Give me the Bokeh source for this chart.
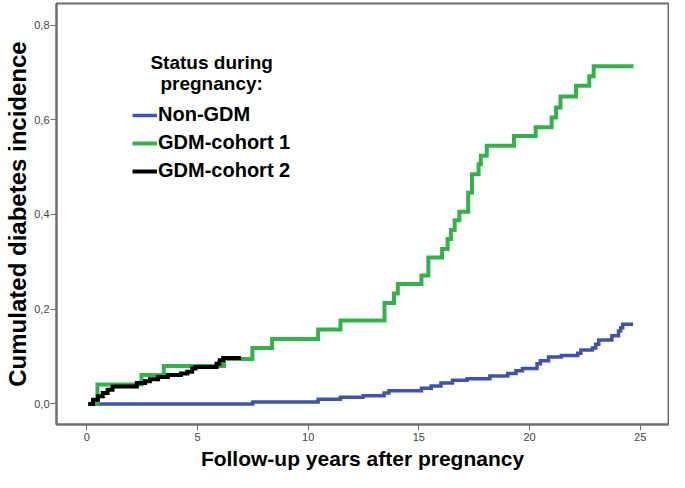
from bokeh.plotting import figure
from bokeh.models import Range1d, FixedTicker, Legend, LegendItem, Label
from bokeh.embed import file_html
from bokeh.resources import INLINE

# ---- data ----
non_gdm_t = [0.1, 7.5, 10.45, 11.46, 12.48, 13.43, 13.65, 15.12, 15.56, 16.0, 16.52,
             17.18, 18.21, 19.02, 19.39, 19.68, 20.34, 20.49, 20.86, 21.44, 22.18,
             22.32, 22.84, 22.99, 23.13, 23.72, 24.02, 24.12, 24.21, 24.68]
non_gdm_v = [0.0, 0.004, 0.010, 0.014, 0.017, 0.023, 0.028, 0.033, 0.038, 0.044, 0.050,
             0.053, 0.059, 0.064, 0.070, 0.075, 0.085, 0.091, 0.099, 0.102, 0.107,
             0.114, 0.118, 0.126, 0.135, 0.144, 0.154, 0.161, 0.168, 0.168]

cohort1_t = [0.1, 0.48, 2.47, 3.48, 6.2, 7.48, 8.37, 10.45, 11.46, 13.45, 13.88, 14.05,
             15.12, 15.43, 16.05, 16.3, 16.45, 16.62, 16.83, 17.23, 17.4, 17.7, 17.8,
             18.07, 19.3, 20.28, 21.0, 21.2, 21.4, 22.1, 22.7, 22.9, 24.7]
cohort1_v = [0.0, 0.041, 0.061, 0.080, 0.095, 0.118, 0.137, 0.157, 0.176, 0.213, 0.233, 0.253,
             0.271, 0.309, 0.327, 0.348, 0.367, 0.388, 0.406, 0.446, 0.485, 0.506, 0.524,
             0.545, 0.566, 0.584, 0.605, 0.626, 0.649, 0.672, 0.692, 0.713, 0.713]

cohort2_t = [0.06, 0.28, 0.50, 0.72, 0.94, 1.16, 2.26, 2.63, 2.85, 3.22, 3.66, 4.25,
             4.54, 4.76, 4.91, 5.86, 6.0, 6.16, 6.97]
cohort2_v = [0.0, 0.009, 0.016, 0.023, 0.030, 0.037, 0.044, 0.048, 0.052, 0.057, 0.061, 0.064,
             0.068, 0.075, 0.078, 0.085, 0.092, 0.097, 0.097]

series_names = ["Non-GDM", "GDM-cohort 1", "GDM-cohort 2"]
series_colors = ["#3c55aa", "#34b24a", "#000000"]

x_ticks = [0, 5, 10, 15, 20, 25]
y_ticks = [0.0, 0.2, 0.4, 0.6, 0.8]
y_tick_labels = ["0,0", "0,2", "0,4", "0,6", "0,8"]

legend_title_lines = ["Status during", "pregnancy:"]

# ---- figure ----
p = figure(width=669, height=472, output_backend="svg", toolbar_location=None,
           x_range=Range1d(-1.37, 26.28), y_range=Range1d(-0.0435, 0.8456),
           min_border_left=56, min_border_right=1, min_border_top=3, min_border_bottom=10)
p.xgrid.visible = False
p.ygrid.visible = False
p.outline_line_color = "#6e6e6e"
p.outline_line_width = 2
p.background_fill_color = "white"
p.border_fill_color = "white"

for ax in (p.xaxis[0], p.yaxis[0]):
    ax.axis_line_color = "#6e6e6e"
    ax.axis_line_width = 2
    ax.major_tick_line_color = "#6e6e6e"
    ax.major_tick_line_width = 1
    ax.major_tick_out = 6
    ax.major_tick_in = 0
    ax.minor_tick_line_color = None
    ax.major_label_text_font = "Liberation Sans"
    ax.major_label_text_font_size = "11px"
    ax.major_label_text_color = "#444444"
    ax.axis_label_text_font = "Liberation Sans"
    ax.axis_label_text_font_style = "bold"
    ax.axis_label_text_color = "black"

p.xaxis.ticker = FixedTicker(ticks=x_ticks)
p.yaxis.ticker = FixedTicker(ticks=y_ticks)
p.yaxis.major_label_overrides = {t: l for t, l in zip(y_ticks, y_tick_labels)}
p.xaxis.major_label_standoff = 2
p.yaxis.major_label_standoff = 1

p.xaxis.axis_label = "Follow-up years after pregnancy"
p.xaxis.axis_label_text_font_size = "21px"
p.xaxis.axis_label_standoff = 3

p.yaxis.axis_label = "Cumulated diabetes incidence"
p.yaxis.axis_label_text_font_size = "24px"
p.yaxis.axis_label_standoff = 0

r_blue = p.step(non_gdm_t, non_gdm_v, mode="after", line_color=series_colors[0],
                line_width=3.5, line_join="miter")
r_green = p.step(cohort1_t, cohort1_v, mode="after", line_color=series_colors[1],
                 line_width=4, line_join="miter")
r_black = p.step(cohort2_t, cohort2_v, mode="after", line_color=series_colors[2],
                 line_width=4, line_join="miter")

legend = Legend(items=[LegendItem(label=series_names[0], renderers=[r_blue]),
                       LegendItem(label=series_names[1], renderers=[r_green]),
                       LegendItem(label=series_names[2], renderers=[r_black])],
                location=(76, 242),
                label_text_font="Liberation Sans", label_text_font_style="bold",
                label_text_font_size="20px", label_text_color="black",
                glyph_width=25, glyph_height=22, label_height=22, spacing=5,
                padding=0, margin=0, label_standoff=1,
                border_line_color=None, background_fill_alpha=0)
p.add_layout(legend)

title_y = [0.722, 0.676]
for line, ty in zip(legend_title_lines, title_y):
    p.add_layout(Label(x=5.64, y=ty, text=line, text_align="center",
                       text_baseline="alphabetic", text_font="Liberation Sans",
                       text_font_style="bold", text_font_size="19px",
                       text_color="black"))

open("out.html", "w").write(file_html(p, INLINE))
